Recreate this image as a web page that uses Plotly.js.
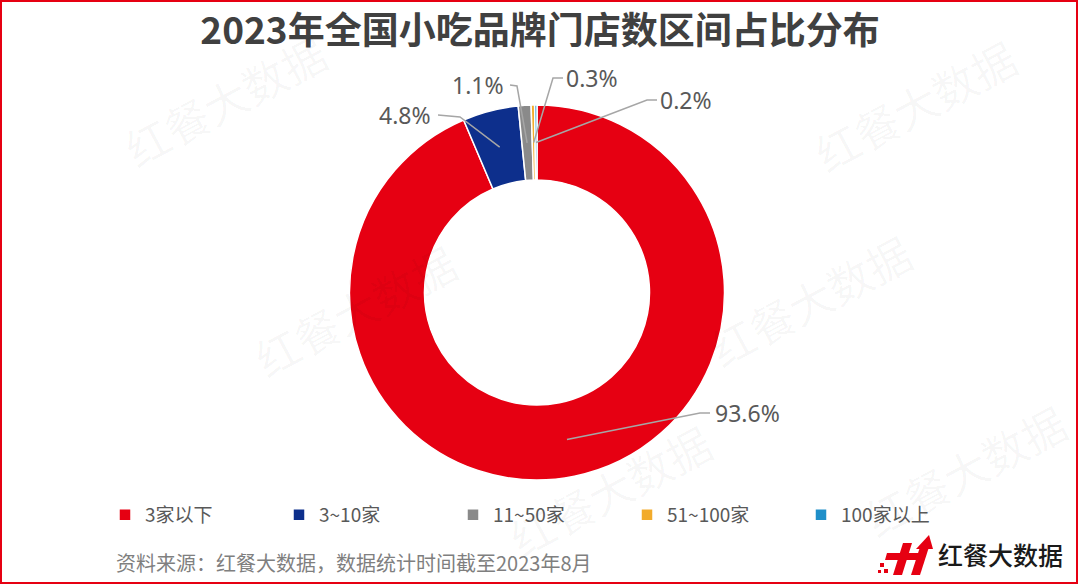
<!DOCTYPE html>
<html>
<head>
<meta charset="utf-8">
<script src="https://cdn.plot.ly/plotly-3.0.1.min.js"></script>
<style>html,body{margin:0;padding:0;background:#fff;}#chart{width:1080px;height:586px;}</style>
</head>
<body>
<div id="chart"></div>
<script>
// ---- data ----
const categories = ['3家以下', '3~10家', '11~50家', '51~100家', '100家以上'];
const shares = [93.6, 4.8, 1.1, 0.3, 0.2];
const sliceColors = ['#e60012', '#0d2f8c', '#8a8a8a', '#f2ab2b', '#1f8fc9'];
const titleText = '2023年全国小吃品牌门店数区间占比分布';
const sourceText = '资料来源：红餐大数据，数据统计时间截至2023年8月';
const brandText = '红餐大数据';

// ---- layout helpers (pixel geometry of the figure) ----
const W = 1080, H = 586;
const cx = 537, cy = 292.5, R = 187.5, HOLE = 0.6;
const X = x => x / W;
const Y = y => 1 - y / H;

// label placement: text centre, elbow point, line end near text (pixels)
const labelPlace = [
  {t: [748, 413], elbow: [700, 413], end: [710, 413]},
  {t: [405, 115], elbow: [460, 117], end: [438, 115]},
  {t: [478, 85],  elbow: [517, 86],  end: [510, 85]},
  {t: [592, 78],  elbow: [553, 78],  end: [563, 78]},
  {t: [686, 100], elbow: [647, 100], end: [657, 100]}
];

const total = shares.reduce((a, b) => a + b, 0);
const shapes = [];
const annotations = [];
let cum = 0;
shares.forEach((v, i) => {
  const mid = (cum + v / 2) / total * 2 * Math.PI;
  cum += v;
  const rm = R * (1 + HOLE) / 2;
  const sx = cx + rm * Math.sin(mid);
  const sy = cy - rm * Math.cos(mid);
  const p = labelPlace[i];
  shapes.push({
    type: 'path', xref: 'paper', yref: 'paper',
    path: `M${X(sx)},${Y(sy)} L${X(p.elbow[0])},${Y(p.elbow[1])} L${X(p.end[0])},${Y(p.end[1])}`,
    line: {color: '#a6a6a6', width: 1.5}
  });
  annotations.push({
    xref: 'paper', yref: 'paper', x: X(p.t[0]), y: Y(p.t[1]),
    xanchor: 'center', yanchor: 'middle', showarrow: false,
    text: v.toFixed(1) + '%',
    font: {family: 'Noto Sans, Open Sans, sans-serif', size: 23, color: '#595959'}
  });
});

// watermarks
const wm = [[225, 100], [915, 105], [355, 310], [810, 300], [610, 490], [965, 470]];
wm.forEach(([x, y]) => {
  annotations.push({
    xref: 'paper', yref: 'paper', x: X(x), y: Y(y), xanchor: 'center', yanchor: 'middle',
    showarrow: false, text: brandText, textangle: -28,
    font: {family: 'Noto Sans CJK SC', size: 44, color: 'rgba(0,0,0,0.035)'}
  });
});

// footer source
annotations.push({
  xref: 'paper', yref: 'paper', x: X(114), y: Y(562), xanchor: 'left', yanchor: 'middle',
  showarrow: false, text: sourceText,
  font: {family: 'Noto Sans CJK SC', size: 20, color: '#7f7f7f'}
});
// brand logo text
annotations.push({
  xref: 'paper', yref: 'paper', x: X(1000), y: Y(554), xanchor: 'center', yanchor: 'middle',
  showarrow: false, text: brandText,
  font: {family: 'Noto Sans CJK SC', size: 25, color: '#1a1a1a', weight: 500}
});

function poly(pts) {
  return 'M' + pts.map(p => X(p[0]) + ',' + Y(p[1])).join(' L') + ' Z';
}
const red = '#e60012';
[
  [[893, 575], [902, 575], [912, 543], [903, 543]],
  [[887, 553], [926, 553], [924, 560], [885, 560]],
  [[911, 575], [920, 575], [929, 547], [920, 547]],
  [[916, 549], [933, 549], [929, 535]],
  [[880, 563], [884, 563], [884, 567], [880, 567]],
  [[884, 569], [888, 569], [888, 573], [884, 573]],
  [[878, 570], [881, 570], [881, 573], [878, 573]]
].forEach(pts => shapes.push({type: 'path', xref: 'paper', yref: 'paper', path: poly(pts),
  fillcolor: red, line: {width: 0}}));

// frame
shapes.push({type: 'rect', xref: 'paper', yref: 'paper', x0: X(1), y0: Y(583), x1: X(1077), y1: Y(1),
  line: {color: red, width: 2}, layer: 'above'});

const trace = {
  type: 'pie',
  labels: categories,
  values: shares,
  sort: false,
  direction: 'clockwise',
  rotation: 0,
  hole: HOLE,
  textinfo: 'none',
  marker: {colors: sliceColors, line: {color: '#ffffff', width: 1.5}},
  domain: {x: [X(cx - R), X(cx + R)], y: [Y(cy + R), Y(cy - R)]},
  hoverinfo: 'label+percent'
};

const layout = {
  width: W, height: H,
  margin: {l: 0, r: 0, t: 0, b: 0},
  paper_bgcolor: '#ffffff',
  title: {
    text: titleText, x: 0.5, xanchor: 'center', y: Y(31), yanchor: 'middle', yref: 'container',
    font: {family: 'Noto Sans CJK SC', size: 37, color: '#404040', weight: 'bold'}
  },
  showlegend: true,
  legend: {
    orientation: 'h', x: X(105), xanchor: 'left', y: Y(515), yanchor: 'middle',
    entrywidth: 129, entrywidthmode: 'pixels', itemwidth: 30,
    font: {family: 'Noto Sans CJK SC', size: 19, color: '#595959'},
    bgcolor: 'rgba(0,0,0,0)'
  },
  shapes: shapes,
  annotations: annotations
};

Plotly.newPlot('chart', [trace], layout, {displayModeBar: false, staticPlot: true});
</script>
</body>
</html>
